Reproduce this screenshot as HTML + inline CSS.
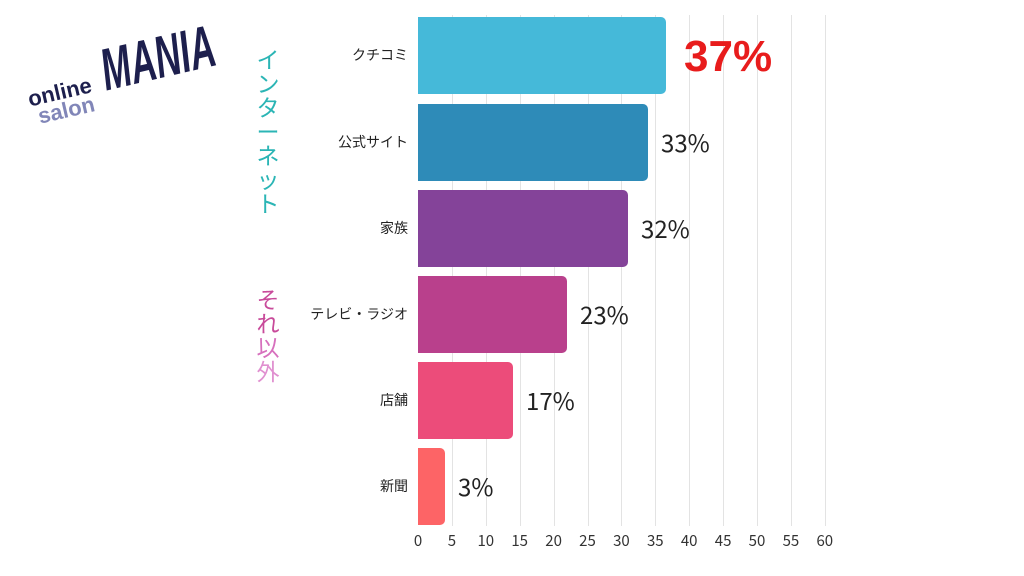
<!DOCTYPE html>
<html><head><meta charset="utf-8"><style>
body{margin:0;width:1024px;height:576px;background:#fff;position:relative;overflow:hidden;font-family:"Liberation Sans","Noto Sans CJK JP",sans-serif}
.g{position:absolute;top:15px;height:511px;width:1px;background:#e3e3e3}
.bar{position:absolute;left:418px;border-radius:0 5px 5px 0}
.lab{position:absolute;right:616px;font-size:14px;color:#222;line-height:20px}
.val{position:absolute;font-size:24px;color:#222;line-height:28px;font-family:"Noto Sans CJK JP",sans-serif}
.tk{position:absolute;top:530px;font-size:15px;color:#333;width:30px;text-align:center;font-family:"Noto Sans CJK JP",sans-serif}
.vt{position:absolute;font-size:23px;line-height:24px;width:26px;text-align:center;font-family:"Noto Sans CJK JP",sans-serif}
</style></head><body>
<div id="grid"></div>
<div style="position:absolute;left:26px;top:90px;transform:rotate(-13deg);transform-origin:left top">
 <div style="position:absolute;left:0;top:0;font:bold 22px 'Liberation Sans',sans-serif;color:#1d1f4d;line-height:20px">online</div>
 <div style="position:absolute;left:6px;top:19px;font:bold 22px 'Liberation Sans',sans-serif;color:#8186b8;line-height:20px">salon</div>
 <div style="position:absolute;left:78px;top:-30px;font:italic 900 44px 'Liberation Sans',sans-serif;color:#1d1f4d;line-height:44px;transform:scale(0.8,1.35);transform-origin:left top">MANIA</div>
</div>
<div class="vt" style="left:255px;top:46px;color:#2bb5b5">イ<br>ン<br>タ<br>ー<br>ネ<br>ッ<br>ト</div>
<div class="vt" style="left:255px;top:286px;color:#c84a9a">そ<br>れ<br><span style="color:#d770bd">以</span><br><span style="color:#e090d0">外</span></div>
<script>
var h='';
for(var k=1;k<=12;k++){h+='<div class="g" style="left:'+(418+k*33.9)+'px"></div>';}
for(var k=0;k<=12;k++){h+='<div class="tk" style="left:'+(403+k*33.9)+'px">'+(k*5)+'</div>';}
var d=[["クチコミ",17,666,"#45b9d9"],["公式サイト",104,648,"#2e8bb8"],["家族",190,628,"#844399"],["テレビ・ラジオ",276,567,"#b9408c"],["店舗",362,513,"#ec4c7a"],["新聞",448,445,"#fd6466"]];
var v=["37%","33%","32%","23%","17%","3%"];
for(var i=0;i<6;i++){var t=d[i][1];
h+='<div class="bar" style="top:'+t+'px;height:77px;width:'+(d[i][2]-418)+'px;background:'+d[i][3]+'"></div>';
h+='<div class="lab" style="top:'+(t+28)+'px">'+d[i][0]+'</div>';
if(i==0)h+='<div class="val" style="left:684px;top:32px;font:bold 44px \'Liberation Sans\',sans-serif;color:#e81c1c;line-height:50px">37%</div>';
else h+='<div class="val" style="left:'+(d[i][2]+13)+'px;top:'+(t+24)+'px">'+v[i]+'</div>';}
document.getElementById('grid').innerHTML=h;
</script>
</body></html>
